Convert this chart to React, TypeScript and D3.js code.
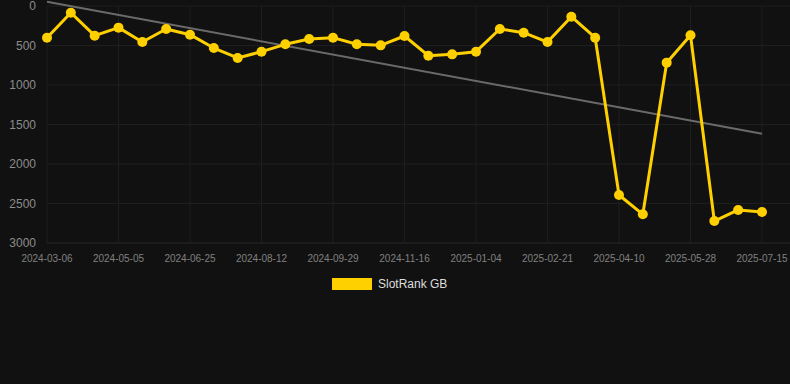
import React from "react";
import * as d3 from "d3";

const dates: string[] = [
  "2024-03-06", "2024-03-26", "2024-04-15", "2024-05-05", "2024-05-22", "2024-06-08",
  "2024-06-25", "2024-07-11", "2024-07-27", "2024-08-12", "2024-08-28", "2024-09-13",
  "2024-09-29", "2024-10-15", "2024-10-31", "2024-11-16", "2024-12-02", "2024-12-18",
  "2025-01-04", "2025-01-20", "2025-02-05", "2025-02-21", "2025-03-09", "2025-03-25",
  "2025-04-10", "2025-04-26", "2025-05-12", "2025-05-28", "2025-06-13", "2025-06-29",
  "2025-07-15",
];

const ranks: number[] = [
  401, 85, 376, 274, 456, 291, 363, 532, 658, 578, 485, 418, 401, 485, 498, 380,
  629, 612, 578, 291, 338, 456, 135, 401, 2392, 2637, 717, 371, 2722, 2582, 2608,
];

const trendStart = -54;
const trendEnd = 1616;

const yTicks: number[] = [0, 500, 1000, 1500, 2000, 2500, 3000];
const xTickLabels: string[] = [
  "2024-03-06", "2024-05-05", "2024-06-25", "2024-08-12", "2024-09-29", "2024-11-16",
  "2025-01-04", "2025-02-21", "2025-04-10", "2025-05-28", "2025-07-15",
];

const seriesName = "SlotRank GB";

export default function App() {
  const W = 790;
  const H = 384;
  const left = 47;
  const right = 790;
  const top = 6;
  const bottom = 243;
  const xs = d3.scalePoint<string>().domain(dates).range([47, 762]);
  const y = d3.scaleLinear().domain([0, 3000]).range([top, bottom]);
  const line = d3
    .line<number>()
    .x((_, i) => xs(dates[i]) as number)
    .y((d) => y(d));
  const gold = "#FFD000";
  return (
    <svg
      width={W}
      height={H}
      style={{ position: "absolute", left: 0, top: 0, background: "#111111", display: "block" }}
      fontFamily="'Liberation Sans', Arial, sans-serif"
    >
      <rect x={0} y={0} width={W} height={H} fill="#111111" />
      {yTicks.map((t) => (
        <g key={t}>
          <line x1={left} x2={right} y1={y(t)} y2={y(t)} stroke={t === 3000 ? "#292929" : "#1e1e1e"} strokeWidth={1} />
          <text x={36} y={y(t)} dy="0.35em" textAnchor="end" fill="#8c8c8c" fontSize={12}>
            {t}
          </text>
        </g>
      ))}
      {xTickLabels.map((d) => (
        <g key={d}>
          <line x1={xs(d)} x2={xs(d)} y1={top} y2={bottom} stroke="#1e1e1e" strokeWidth={1} />
          <text x={xs(d)} y={262} textAnchor="middle" fill="#808080" fontSize={10}>
            {d}
          </text>
        </g>
      ))}
      <line
        x1={xs(dates[0])}
        y1={y(trendStart)}
        x2={xs(dates[dates.length - 1])}
        y2={y(trendEnd)}
        stroke="#6a6a6a"
        strokeWidth={2}
      />
      <path d={line(ranks) || ""} fill="none" stroke={gold} strokeWidth={3} strokeLinejoin="round" />
      {ranks.map((v, i) => (
        <circle key={i} cx={xs(dates[i])} cy={y(v)} r={5} fill={gold} />
      ))}
      <rect x={332} y={278} width={40} height={12} fill={gold} />
      <text x={378} y={284} dy="0.35em" fill="#dddddd" fontSize={12}>
        {seriesName}
      </text>
    </svg>
  );
}
